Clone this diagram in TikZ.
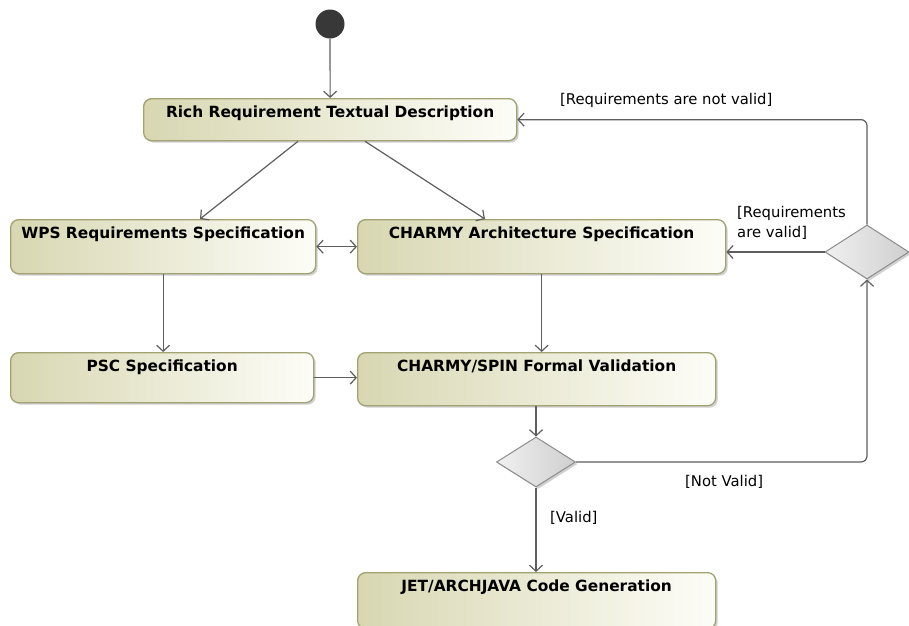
\documentclass[tikz,border=0pt]{standalone}
\usepackage{fontspec}
\setmainfont{DejaVu Sans}
\usepackage{tikz}
\usetikzlibrary{calc,arrows.meta,positioning,shapes.geometric,shadows}
\definecolor{boxleft}{HTML}{D8D7B2}
\definecolor{boxright}{HTML}{FDFDF8}
\definecolor{boxline}{HTML}{A3A273}
\definecolor{flowline}{HTML}{5E5E5E}
\definecolor{decleft}{HTML}{F0F0F0}
\definecolor{decright}{HTML}{CFCFCF}
\tikzset{
  action/.style={draw=boxline,line width=1.3pt,rounded corners=8pt,
    left color=boxleft,right color=boxright,inner sep=0pt,
    anchor=north west,align=center,text height=19pt,
    font=\fontsize{15.4}{18}\selectfont\bfseries,
    drop shadow={shadow xshift=2pt,shadow yshift=-2pt,fill=black!30,opacity=.6}},
  decision/.style={diamond,draw=black!45,line width=1pt,inner sep=0pt,
    left color=decleft,right color=decright,
    drop shadow={shadow xshift=2pt,shadow yshift=-2pt,fill=black!30,opacity=.6}},
  flow/.style={draw=flowline,line width=1.2pt,-{Straight Barb[length=6pt,width=13pt]}},
  guard/.style={font=\fontsize{14.8}{20}\selectfont,inner sep=0pt,anchor=west}
}
\begin{document}
\begin{tikzpicture}[x=1pt,y=-1pt]
  \useasboundingbox (0,0) rectangle (909,625);
  \fill[white] (0,0) rectangle (909,625);
  % initial node
  \node[circle,fill=black!78,minimum size=29pt,inner sep=0pt] (start) at (330,24) {};
  % actions
  \node[action,minimum width=373pt,text depth=23pt] (rich) at (143,98)
    {Rich Requirement Textual Description};
  \node[action,minimum width=305pt,text depth=35pt] (wps) at (10,219)
    {WPS Requirements Specification};
  \node[action,minimum width=368pt,text depth=35pt] (arch) at (357,219)
    {CHARMY Architecture Specification};
  \node[action,minimum width=303pt,text depth=31pt] (psc) at (10,352)
    {PSC Specification};
  \node[action,minimum width=358pt,text depth=34pt] (spin) at (357,352)
    {CHARMY/SPIN Formal Validation};
  \node[action,minimum width=358pt,text depth=37pt] (jet) at (357,572)
    {JET/ARCHJAVA Code Generation};
  % decisions
  \node[decision,minimum width=79pt,minimum height=50pt] (check) at (536,462) {};
  \node[decision,minimum width=84pt,minimum height=54pt] (loop) at (867,252) {};
  % flows
  \draw[flow] (start) -- (rich.north);
  \draw[flow] ($(rich.south west)+(155,0)$) -- ($(wps.north west)+(190,0)$);
  \draw[flow] ($(rich.south west)+(222,0)$) -- ($(arch.north west)+(128,0)$);
  \draw[flow,{Straight Barb[length=6pt,width=13pt]}-{Straight Barb[length=6pt,width=13pt]}]
    (wps.east) -- (arch.west);
  \draw[flow] (wps.south) -- (wps.south |- psc.north);
  \draw[flow] (psc.east) -- (psc.east -| spin.west);
  \draw[flow] (arch.south) -- (arch.south |- spin.north);
  \draw[flow] (spin.south -| check) -- (check.north);
  \draw[flow] (check.south) -- (check.south |- jet.north);
  \draw[flow,rounded corners=6pt] (check.east) -| (loop.south);
  \draw[flow] (loop.west) -- (loop.west -| arch.east);
  \draw[flow,rounded corners=6pt] (loop.north) |- (rich.east);
  % guards
  \node[guard] (valid) at (550,518) {[Valid]};
  \node[guard] (notvalid) at (685,482) {[Not Valid]};
  \node[guard,align=left,anchor=north west] (reqvalid) at (737,206)
    {[Requirements\\are valid]};
  \node[guard] (reqnotvalid) at (560,100) {[Requirements are not valid]};
\end{tikzpicture}
\end{document}
